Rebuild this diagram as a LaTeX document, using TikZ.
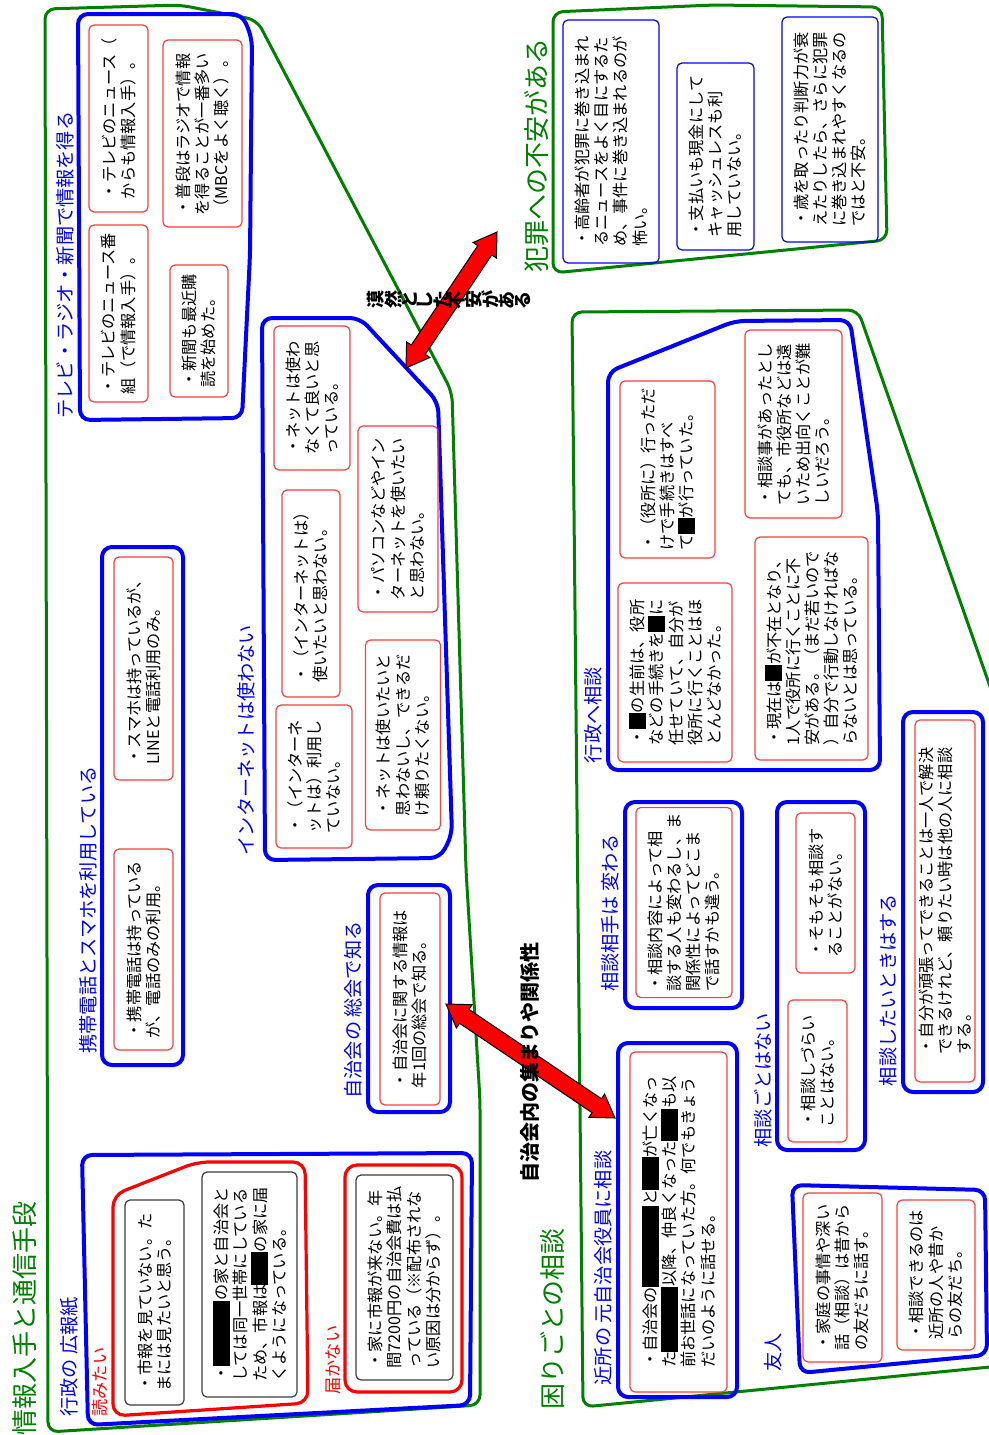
\documentclass[tikz,border=0pt]{standalone}
\usepackage{fontspec}
\setmainfont{Noto Sans CJK JP}
\usepackage{graphicx}
\usepackage{tikz}
\usetikzlibrary{calc}
\definecolor{MapGreen}{HTML}{008000}
\definecolor{MapBlue}{HTML}{0000FF}
\definecolor{MapRed}{HTML}{FF0000}
\definecolor{NoteRed}{HTML}{FF3C3C}
\definecolor{NoteGray}{HTML}{3C3C3C}
\newcommand{\blk}[1]{\rule[-0.13em]{#1em}{1.06em}}
\newcommand{\tate}[1]{\rotatebox[origin=c]{90}{#1}}
\newcommand{\notefont}{\fontsize{8.1}{9.6}\selectfont}
\newcommand{\fatarrow}[2]{%
  \coordinate (fa-a) at ($(#1)!11pt!(#2)$);
  \coordinate (fa-b) at ($(#2)!11pt!(#1)$);
  \filldraw[fat] (#1) -- ($(fa-a)!7pt!90:(#2)$) -- ($(fa-a)!4.2pt!90:(#2)$)
    -- ($(fa-b)!4.2pt!-90:(#1)$) -- ($(fa-b)!7pt!-90:(#1)$) -- (#2)
    -- ($(fa-b)!7pt!90:(#1)$) -- ($(fa-b)!4.2pt!90:(#1)$)
    -- ($(fa-a)!4.2pt!-90:(#2)$) -- ($(fa-a)!7pt!-90:(#2)$) -- cycle;}

\begin{document}
\begin{tikzpicture}[x=0.5pt,y=-0.5pt,
  region/.style={draw=MapGreen,line width=1.5pt,rounded corners=5pt},
  frame/.style={draw=MapBlue,line width=2pt,rounded corners=5pt},
  boxframe/.style={frame,inner sep=0pt},
  redframe/.style={draw=MapRed,line width=1.6pt,rounded corners=6pt},
  note/.style={rotate=90,draw=NoteRed,line width=0.6pt,rounded corners=2.5pt,
    align=left,inner xsep=3pt,inner ysep=1.5pt,font=\notefont},
  fearnote/.style={note,draw=MapBlue},
  graynote/.style={note,draw=NoteGray},
  grplabel/.style={rotate=90,text=MapBlue,font=\fontsize{9.6}{11}\selectfont,inner sep=0pt},
  toplabel/.style={rotate=90,text=MapGreen,font=\fontsize{13}{15}\selectfont,inner sep=0pt},
  redlabel/.style={rotate=90,text=MapRed,font=\fontsize{8.6}{10}\selectfont,inner sep=0pt},
  linklabel/.style={font=\bfseries\fontsize{10}{12}\selectfont,inner sep=0pt},
  fat/.style={fill=MapRed,draw=black,line width=0.5pt,line join=miter}]
  \useasboundingbox (0,0) rectangle (989,1435);
  \clip (0,0) rectangle (989,1435);

  \draw[region] (45,9) -- (180,5) -- (257,20) -- (452,392) -- (466,870) -- (480,1100)
    -- (480,1405) -- (48,1432) -- cycle;
  \node[toplabel] (infolbl) at (25,1318) {情報入手と通信手段};

  \draw[frame] (78,14) -- (242,14) -- (252,38) -- (250,255) -- (242,418) -- (80,420) -- cycle;
  \node[grplabel] (tvlbl) at (65,265) {テレビ・ラジオ・新聞で情報を得る};
  \node[note,minimum width=93.5pt,minimum height=29.5pt] (tv1) at (118.5,118.5)
    {・テレビのニュース（\\からも情報入手）。};
  \node[note,minimum width=88.5pt,minimum height=29.5pt] (tv2) at (118.5,313.5)
    {・テレビのニュース番\\組（で情報入手）。};
  \node[note,minimum width=93.5pt,minimum height=39.5pt] (radio) at (202.5,133.5)
    {・普段はラジオで情報\\を得ることが一番多い\\（MBCをよく聴く）。};
  \node[note,minimum width=66pt,minimum height=29pt] (paper) at (199,331)
    {・新聞も最近購\\読を始めた。};

  \draw[frame] (262,318) -- (360,318) -- (438,402) -- (452,835) -- (440,858) -- (265,860) -- cycle;
  \node[grplabel] (netlbl) at (246,740) {インターネットは使わない};
  \node[note,minimum width=72pt,minimum height=38pt] (net1) at (312,398)
    {・ネットは使わ\\なくて良いと思\\っている。};
  \node[note,minimum width=103.5pt,minimum height=29pt] (net2) at (311,593.5)
    {・（インターネットは）\\使いたいと思わない。};
  \node[note,minimum width=71.5pt,minimum height=38pt] (net3) at (314,776.5)
    {・（インターネ\\ットは）利用し\\ていない。};
  \node[note,minimum width=93pt,minimum height=40pt] (net4) at (398,519)
    {・パソコンなどやイン\\ターネットを使いたい\\と思わない。};
  \node[note,minimum width=95pt,minimum height=37.5pt] (net5) at (403,735)
    {・ネットは使いたいと\\思わないし、できるだ\\け頼りたくない。};

  \node[boxframe,minimum width=40.5pt,minimum height=259pt] (mobileframe) at (142.5,806) {};
  \node[grplabel] (mobilelbl) at (88,910) {携帯電話とスマホを利用している};
  \node[note,minimum width=111.5pt,minimum height=29.5pt] (smart) at (143.5,668.5)
    {・スマホは持っているが、\\LINEと電話利用のみ。};
  \node[note,minimum width=100.5pt,minimum height=29.5pt] (phone) at (143.5,949.5)
    {・携帯電話は持っている\\が、電話のみの利用。};

  \node[boxframe,minimum width=41pt,minimum height=113.5pt] (meetframe) at (409,998.5) {};
  \node[grplabel] (meetlbl) at (353,1010) {自治会の 総会で知る};
  \node[note,minimum width=106pt,minimum height=30pt] (meet) at (410,999)
    {・自治会に関する情報は\\年1回の総会で知る。};

  \draw[frame] (82,1155) -- (472,1153) -- (470,1405) -- (88,1425) -- cycle;
  \node[grplabel] (paperlbl) at (69,1357) {行政の 広報紙};
  \draw[redframe] (113,1416) -- (113,1195) -- (197,1162) -- (305,1162) -- (308,1403) -- cycle;
  \node[redlabel] (wantlbl) at (100,1382) {読みたい};
  \node[graynote,minimum width=102.5pt,minimum height=29.5pt] (cityA) at (154.5,1302.5)
    {・市報を見ていない。た\\まには見たいと思う。};
  \node[graynote,minimum width=112.5pt,minimum height=47.5pt] (cityB) at (249.5,1284.5)
    {・\blk{4}の家と自治会と\\しては同一世帯にしている\\ため、市報は\blk{2}の家に届\\くようになっている。};
  \draw[redframe] (345,1165) rectangle (462,1392);
  \node[redlabel] (misslbl) at (333,1360) {届かない};
  \node[graynote,minimum width=102.5pt,minimum height=48.5pt] (cityC) at (404.5,1277.5)
    {・家に市報が来ない。年\\間7200円の自治会費は払\\っている（※配布されな\\い原因は分からず）。};

  \draw[region] (553,12) -- (713,5) -- (882,7) -- (887,240) -- (553,273) -- cycle;
  \node[toplabel] (crimelbl) at (537,155) {犯罪への不安がある};
  \node[fearnote,minimum width=121.5pt,minimum height=48pt] (fear1) at (611,141.5)
    {・高齢者が犯罪に巻き込まれ\\るニュースをよく目にするた\\め、事件に巻き込まれるのが\\怖い。};
  \node[fearnote,minimum width=93.5pt,minimum height=38.5pt] (fear2) at (715.5,156.5)
    {・支払いも現金にして\\キャッシュレスも利\\用していない。};
  \node[fearnote,minimum width=112.5pt,minimum height=48pt] (fear3) at (830,129.5)
    {・歳を取ったり判断力が衰\\えたりしたら、さらに犯罪\\に巻き込まれやすくなるの\\ではと不安。};

  \draw[region] (572,312) -- (858,310) -- (1000,715) -- (1000,1366) -- (583,1407) -- cycle;
  \node[toplabel] (helplbl) at (553,1319) {困りごとの相談};

  \draw[frame] (608,372) -- (735,321) -- (850,320) -- (878,513) -- (880,770) -- (608,770) -- cycle;
  \node[grplabel] (govlbl) at (593,715) {行政へ相談};
  \node[note,minimum width=88.5pt,minimum height=47.5pt] (gov1) at (667.5,469.5)
    {・（役所に）行っただ\\けで手続きはすべ\\て\blk{1}が行っていた。};
  \node[note,minimum width=89.5pt,minimum height=57pt] (gov2) at (675,672.5)
    {・\blk{1}の生前は、役所\\などの手続きを\blk{1}に\\任せていて、自分が\\役所に行くことはほ\\とんどなかった。};
  \node[note,minimum width=94pt,minimum height=48.5pt] (gov3) at (793.5,424)
    {・相談事があったとし\\ても、市役所などは遠\\いため出向くことが難\\しいだろう。};
  \node[note,minimum width=111.5pt,minimum height=56.5pt] (gov4) at (811.5,648.5)
    {・現在は\blk{1}が不在となり、\\1人で役所に行くことに不\\安がある。（まだ若いので\\）自分で行動しなければな\\らないとは思っている。};

  \node[boxframe,minimum width=58.5pt,minimum height=103pt] (pickframe) at (683.5,905) {};
  \node[grplabel] (picklbl) at (610,913) {相談相手は 変わる};
  \node[note,minimum width=93.5pt,minimum height=48pt] (pick) at (684,902.5)
    {・相談内容によって相\\談する人も変わるし、ま\\関係性によってどこま\\で話すかも違う。};

  \node[boxframe,minimum width=44pt,minimum height=174pt] (noneframe) at (821,976) {};
  \node[grplabel] (nonelbl) at (763,1080) {相談ごとはない};
  \node[note,minimum width=80pt,minimum height=29.5pt] (none1) at (825.5,893)
    {・そもそも相談す\\ることがない。};
  \node[note,minimum width=71pt,minimum height=29.5pt] (none2) at (817.5,1071)
    {・相談しづらい\\ことはない。};

  \node[boxframe,minimum width=40pt,minimum height=190pt] (askframe) at (943,902) {};
  \node[grplabel] (asklbl) at (888,990) {相談したいときはする};
  \node[note,minimum width=181pt,minimum height=30pt] (ask) at (945,901)
    {・自分が頑張ってできることは一人で解決\\できるけれど、頼りたい時は他の人に相談\\する。};

  \node[boxframe,minimum width=59.5pt,minimum height=177pt] (elderframe) at (677.5,1220) {};
  \node[grplabel] (elderlbl) at (603,1268) {近所の 元自治会役員に相談};
  \node[note,minimum width=170pt,minimum height=48.5pt] (elder) at (678.5,1222)
    {・自治会の\blk{5}と\blk{2}が亡くなっ\\た\blk{4}以降、仲良くなった\blk{2}も以\\前お世話になっていた方。何でもきょう\\だいのように話せる。};

  \draw[frame] (792,1185) -- (985,1190) -- (987,1355) -- (800,1373) -- cycle;
  \node[grplabel] (friendlbl) at (773,1352) {友人};
  \node[note,minimum width=84.5pt,minimum height=39.5pt] (friend1) at (842.5,1277.5)
    {・家庭の事情や深い\\話（相談）は昔から\\の友だちに話す。};
  \node[note,minimum width=75pt,minimum height=39pt] (friend2) at (936,1275)
    {・相談できるのは\\近所の人や昔か\\らの友だち。};

  \coordinate (fearA) at (406,368);
  \coordinate (fearB) at (497,232);
  \fatarrow{fearA}{fearB}
  \node[linklabel,font=\bfseries\fontsize{9}{11}\selectfont] (vaguelbl) at (449,300)
    {\tate{漠}\tate{然}\tate{と}\tate{し}\tate{た}\tate{不}\tate{安}\tate{が}\tate{あ}\tate{る}};
  \coordinate (tieA) at (446,1004);
  \coordinate (tieB) at (615,1118);
  \fatarrow{tieA}{tieB}
  \node[linklabel,rotate=90] (tielbl) at (530,1062) {自治会内の集まりや関係性};
\end{tikzpicture}
\end{document}
